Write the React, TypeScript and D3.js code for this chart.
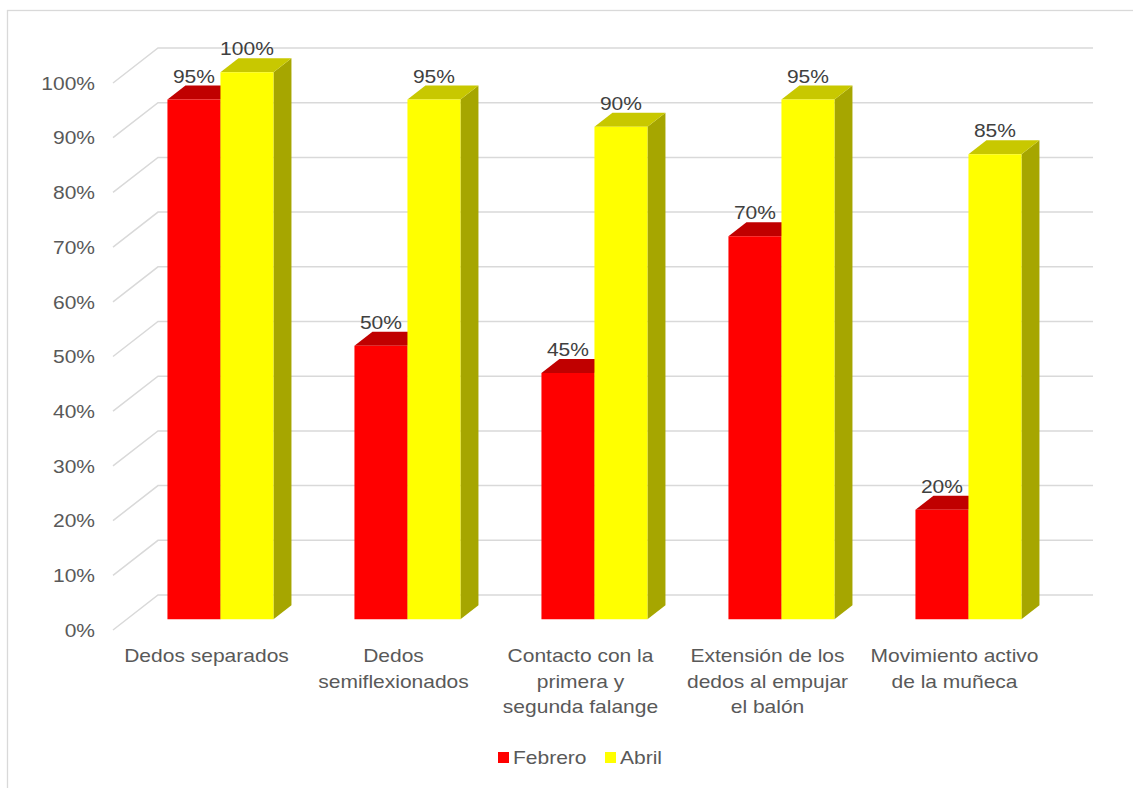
import React from "react";
import * as d3 from "d3";

const categories = [
  "Dedos separados",
  "Dedos semiflexionados",
  "Contacto con la primera y segunda falange",
  "Extensión de los dedos al empujar el balón",
  "Movimiento activo de la muñeca",
];
const categoryLines = [
  ["Dedos separados"],
  ["Dedos", "semiflexionados"],
  ["Contacto con la", "primera y", "segunda falange"],
  ["Extensión de los", "dedos al empujar", "el balón"],
  ["Movimiento activo", "de la muñeca"],
];
const seriesNames = ["Febrero", "Abril"];
const febrero = [95, 50, 45, 70, 20];
const abril = [100, 95, 90, 95, 85];
const yTicks = [0, 10, 20, 30, 40, 50, 60, 70, 80, 90, 100];

const colors = {
  Febrero: { front: "#FF0000", top: "#C00000", side: "#A00000" },
  Abril: { front: "#FFFF00", top: "#C8C800", side: "#A6A600" },
};

const W = 1133;
const H = 788;
const DX = 45;
const DY = -35;
const D0 = 0.31;
const D1 = 0.71;
const FONT = "'Liberation Sans', Arial, sans-serif";
const FS = 18.6;
const SX = 1.13;

function T({
  x,
  y,
  anchor = "start",
  fill = "#595959",
  dy,
  children,
}: {
  x: number;
  y: number;
  anchor?: string;
  fill?: string;
  dy?: string;
  children: React.ReactNode;
}) {
  return (
    <g transform={`translate(${x},${y}) scale(${SX},1)`}>
      <text x={0} y={0} dy={dy} textAnchor={anchor} fontSize={FS} fill={fill}>
        {children}
      </text>
    </g>
  );
}

export default function App() {
  const x = d3.scaleBand<string>().domain(categories).range([113, 1048]);
  const inner = d3
    .scaleBand<string>()
    .domain(seriesNames)
    .range([0, x.bandwidth()])
    .paddingInner(0)
    .paddingOuter(0.764);
  const y = d3.scaleLinear().domain([0, 100]).range([630, 83]);
  const proj = (px: number, py: number, d: number): [number, number] => [px + DX * d, py + DY * d];
  const pts = (arr: [number, number][]) => arr.map((p) => p.join(",")).join(" ");
  const xLeft = x.range()[0];
  const xRight = x.range()[1];

  const series = [
    { name: "Febrero", values: febrero },
    { name: "Abril", values: abril },
  ];

  return (
    <svg
      width={W}
      height={H}
      style={{ position: "absolute", left: 0, top: 0, background: "#fff" }}
      fontFamily={FONT}
    >
      <rect x={7.5} y={10.5} width={1130} height={800} fill="#fff" stroke="#d9d9d9" strokeWidth={1.3} />
      {/* gridlines */}
      {yTicks.map((t) => {
        const a = proj(xLeft, y(t), 0);
        const b = proj(xLeft, y(t), 1);
        const c = proj(xRight, y(t), 1);
        return (
          <g key={t}>
            <polyline points={pts([a, b, c])} fill="none" stroke="#d9d9d9" strokeWidth={1.5} />
            <T x={95} y={y(t)} dy="0.36em" anchor="end">
              {t}%
            </T>
          </g>
        );
      })}
      {/* bars */}
      {categories.map((cat, i) => (
        <g key={cat}>
          {series.map((s) => {
            const v = s.values[i];
            const x0 = (x(cat) as number) + (inner(s.name) as number);
            const x1 = x0 + inner.bandwidth();
            const yt = y(v);
            const yb = y(0);
            const c = colors[s.name as "Febrero" | "Abril"];
            const fA = proj(x0, yt, D0);
            const fB = proj(x1, yt, D0);
            const fC = proj(x1, yb, D0);
            const fD = proj(x0, yb, D0);
            const bA = proj(x0, yt, D1);
            const bB = proj(x1, yt, D1);
            const bC = proj(x1, yb, D1);
            return (
              <g key={s.name}>
                <polygon points={pts([fB, bB, bC, fC])} fill={c.side} />
                <polygon points={pts([fA, bA, bB, fB])} fill={c.top} />
                <polygon points={pts([fA, fB, fC, fD])} fill={c.front} />
                <T x={(x0 + x1) / 2 + DX * D0} y={bA[1] - 3} anchor="middle" fill="#404040">
                  {v}%
                </T>
              </g>
            );
          })}
        </g>
      ))}
      {/* category labels */}
      {categories.map((cat, i) => (
        <g key={cat}>
          {categoryLines[i].map((line, j) => (
            <T key={j} x={(x(cat) as number) + x.bandwidth() / 2} y={662 + j * 25.5} anchor="middle">
              {line}
            </T>
          ))}
        </g>
      ))}
      {/* legend */}
      <g>
        <rect x={498} y={752} width={11} height={11} fill={colors.Febrero.front} />
        <T x={513} y={764}>
          {seriesNames[0]}
        </T>
        <rect x={605} y={752} width={11} height={11} fill={colors.Abril.front} />
        <T x={620} y={764}>
          {seriesNames[1]}
        </T>
      </g>
    </svg>
  );
}
